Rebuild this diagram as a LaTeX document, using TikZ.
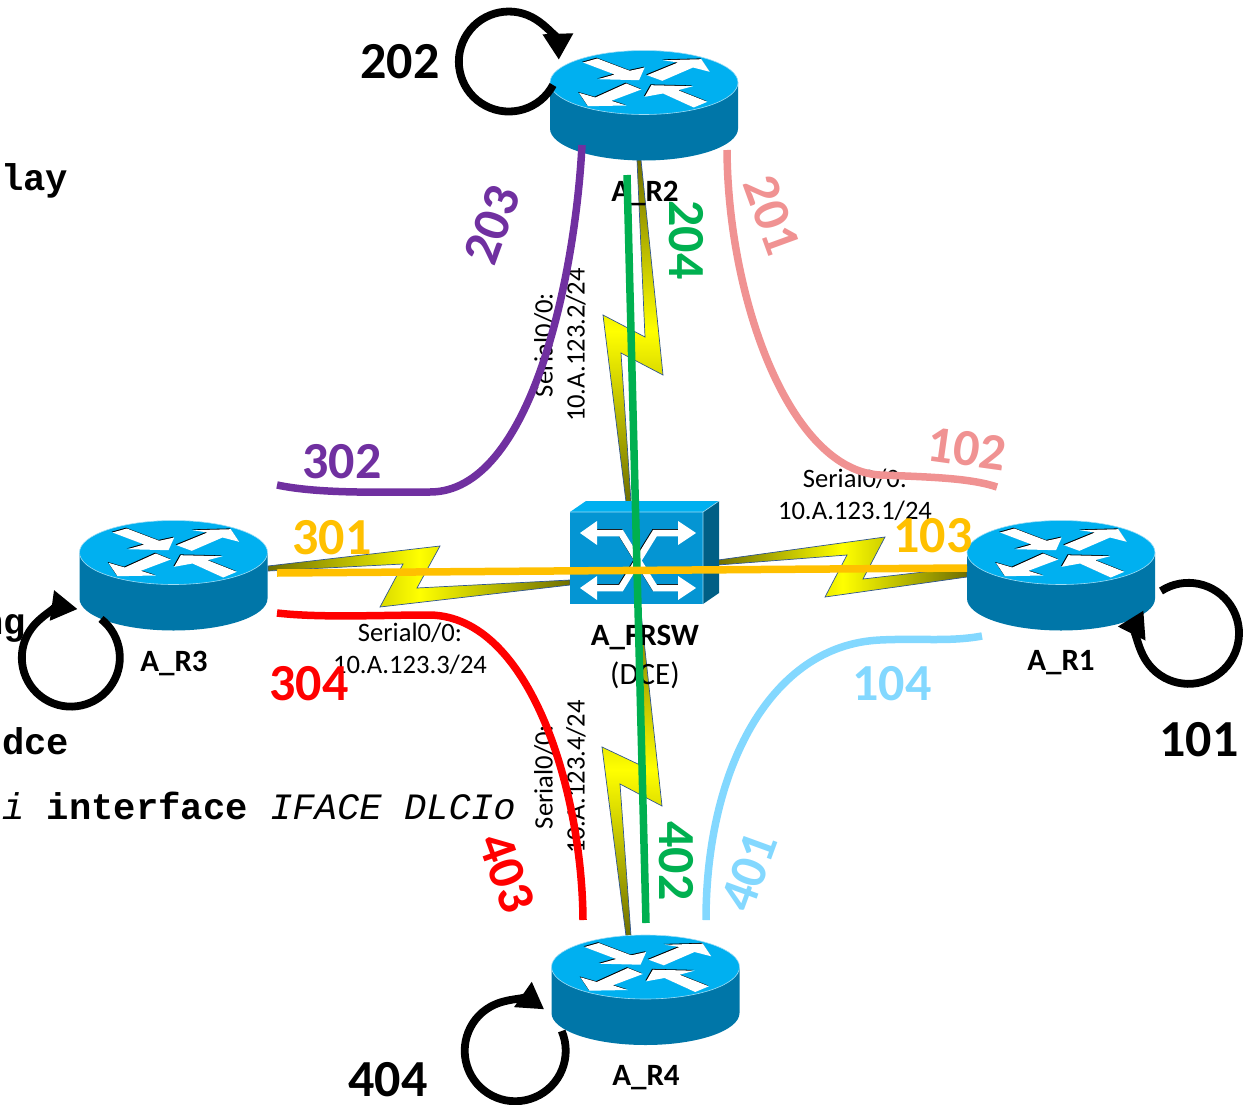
\documentclass[tikz,border=0pt]{standalone}
\usepackage{fontspec}
\setmainfont{Carlito}
\newfontfamily\codefont{Liberation Mono}
\usetikzlibrary{arrows.meta}
\definecolor{routertop}{HTML}{00B0F0}
\definecolor{routerside}{HTML}{0076A8}
\definecolor{routeredge}{HTML}{9FDDF5}
\definecolor{switchfront}{HTML}{0495D3}
\definecolor{switchside}{HTML}{005F85}
\definecolor{boltend}{HTML}{6F6F00}
\definecolor{boltline}{HTML}{2F5590}
\definecolor{dlcipurple}{HTML}{7030A0}
\definecolor{dlcipink}{HTML}{F09292}
\definecolor{dlciamber}{HTML}{FFC000}
\definecolor{dlciblue}{HTML}{83D8FF}
\definecolor{dlcigreen}{HTML}{00B050}
\tikzset{
  router/.pic={
    \fill[routerside] (-94,0) -- (-94,46) arc[start angle=180,end angle=0,x radius=94,y radius=32] -- (94,0) -- cycle;
    \filldraw[fill=routertop,draw=routeredge,line width=.6pt] (0,0) ellipse [x radius=94,y radius=32];
    \foreach \col/\d in {black/-.8,white/0} % shadow first
    \fill[\col,shift={(\d,\d)}]
      (-61,-20) -- (-46.7,-24) -- (-14.3,-11.7) -- (.7,-15) -- (-5,-2.3) -- (-46,-3.3) -- (-29.3,-8) -- cycle
      (3,-7.3) -- (34,-20) -- (19,-22.3) -- (57.3,-23.3) -- (65.7,-10.7) -- (49,-15) -- (18.3,-1.7) -- cycle
      (-2.7,7) -- (-32.7,18.3) -- (-17.7,23) -- (-56,23.7) -- (-65,10.3) -- (-48.7,15) -- (-17.7,1) -- cycle
      (.7,14.3) -- (7.3,2.7) -- (49,3.7) -- (34,7.7) -- (63.3,19.3) -- (49.7,25) -- (19,11) -- cycle;
  },
  bolt/.style={draw=boltline,line width=.7pt,line join=miter},
  dlci/.style={line width=7.5pt,line cap=butt},
  selfloop/.style={line width=7.8pt,-{Triangle[length=26pt,width=29pt]}},
  devlabel/.style={font=\bfseries\fontsize{31}{33}\selectfont,inner sep=0pt},
  portlabel/.style={font=\fontsize{26.6}{32}\selectfont,align=center,inner sep=0pt},
  dlcinum/.style={font=\bfseries\fontsize{52}{52}\selectfont,inner sep=0pt},
  codeline/.style={font=\codefont\fontsize{37.2}{37.2}\selectfont,anchor=base west,inner sep=0pt}
}
\begin{document}
\begin{tikzpicture}[x=1pt,y=-1pt]
\useasboundingbox (0,0) rectangle (1247,1105);
% text left over behind the diagram
\node[codeline] (codelay) at (1,190) {\bfseries lay};
\node[codeline] (codeng) at (-19,634) {\bfseries ng};
\node[codeline] (codedce) at (2,754) {\bfseries dce};
\node[codeline] (codeiface) at (2,819) {{\itshape i} {\bfseries interface} {\itshape IFACE DLCIo}};
% lightning links
\shade[bolt,left color=boltend,right color=boltend,middle color=yellow] (268,566) -- (440,546) -- (417,588) -- (570,580) -- (570,585) -- (380,607) -- (403,564) -- (268,571) -- cycle;
\shade[bolt,left color=boltend,right color=boltend,middle color=yellow] (718,560) -- (885,537) -- (863,579) -- (967,567) -- (967,577) -- (825,597) -- (847,555) -- (718,565) -- cycle;
\shade[bolt,top color=boltend,bottom color=boltend,middle color=yellow] (637,160) -- (645,337) -- (603,315) -- (626,502) -- (631,502) -- (621,353) -- (663,375) -- (641,160) -- cycle;
\shade[bolt,top color=boltend,bottom color=boltend,middle color=yellow] (636,604) -- (640,765) -- (602,747) -- (626,936) -- (631,936) -- (620,784) -- (662,806) -- (640,604) -- cycle;
% routers
\foreach \x/\y in {644/82.5,173.5/552.5,1061/552.5,645.5/967}
\pic at (\x,\y) {router};
% frame relay switch
\fill[routertop] (570,512) -- (586,501) -- (719,501) -- (703,512) -- cycle;
\fill[switchside] (703,512) -- (719,501) -- (719,593) -- (703,604) -- cycle;
\fill[switchfront] (570,512) rectangle (703,604);
\draw[routeredge,line width=.6pt] (703,604) -- (703,512) -- (570,512) (703,512) -- (719,501);
\foreach \col/\d in {black/-.7,white/0}
\draw[\col,line width=6.5pt,shift={(\d,\d)}] (594,533) -- (621,533) -- (655,588) -- (682,588) (682,533) -- (655,533) -- (621,588) -- (594,588);
\fill[white] (580,533) -- (597,521) -- (597,545) -- cycle (696,533) -- (678,521) -- (678,545) -- cycle
  (580,588) -- (597,576) -- (597,600) -- cycle (696,588) -- (678,576) -- (678,600) -- cycle;
% device and port labels
\node[devlabel] (labelR2) at (645,193) {A\_R2};
\node[devlabel] (labelR3) at (174,663) {A\_R3};
\node[devlabel] (labelR1) at (1061,663) {A\_R1};
\node[devlabel] (labelR4) at (646,1078) {A\_R4};
\node[devlabel] (labelsw) at (645,637) {A\_FRSW};
\node[font=\fontsize{31}{33}\selectfont,inner sep=0pt] (labeldce) at (645,675) {(DCE)};
\node[portlabel] (portR3) at (410,649) {Serial0/0:\\10.A.123.3/24};
\node[portlabel] (portR1) at (855,495) {Serial0/0:\\10.A.123.1/24};
\node[portlabel,rotate=90] (portR2) at (560,345) {Serial0/0:\\10.A.123.2/24};
\node[portlabel,rotate=90] (portR4) at (560,777) {Serial0/0:\\10.A.123.4/24};
% dlci paths
\coordinate (purpleR2) at (582,145);
\coordinate (purpleR3) at (277,485);
\coordinate (pinkR2) at (727,150);
\coordinate (pinkR1) at (997,487);
\coordinate (redR3) at (277,613);
\coordinate (redR4) at (583,920);
\coordinate (blueR1) at (982,636);
\coordinate (blueR4) at (706,920);
\coordinate (greenR2) at (627,175);
\coordinate (greenR4) at (646,923);
\coordinate (amberR3) at (277,573);
\coordinate (amberR1) at (967,568);
\draw[dlci,dlcigreen] (greenR2) -- (greenR4);
\draw[dlci,dlciamber] (amberR3) -- (amberR1);
\draw[dlci,dlcipurple] (purpleR2) .. controls (575,280) and (530,492) .. (430,492) .. controls (380,492) and (320,494) .. (purpleR3);
\draw[dlci,dlcipink] (pinkR2) .. controls (728,300) and (790,470) .. (880,475) .. controls (930,477) and (970,478) .. (pinkR1);
\draw[dlci,red] (redR3) .. controls (320,618) and (380,615) .. (430,615) .. controls (530,617) and (582,790) .. (redR4);
\draw[dlci,dlciblue] (blueR1) .. controls (950,642) and (920,638) .. (880,640) .. controls (770,645) and (706,770) .. (blueR4);
% local loops
\draw[selfloop] (553,85) arc[start angle=28,end angle=358,radius=50];
\draw[selfloop] (101,619) arc[start angle=-52,end angle=278,radius=49];
\draw[selfloop] (1161,591) arc[start angle=-123,end angle=207,radius=50.5];
\draw[selfloop] (561.7,1031) arc[start angle=-23,end angle=305,radius=50.5];
% dlci numbers
\node[dlcinum] (n202) at (400,62) {202};
\node[dlcinum] (n101) at (1199,740) {101};
\node[dlcinum] (n404) at (388,1080) {404};
\node[dlcinum,dlcipurple] (n302) at (342,462) {302};
\node[dlcinum,dlciamber] (n301) at (332,538) {301};
\node[dlcinum,red] (n304) at (309,684) {304};
\node[dlcinum,dlciamber] (n103) at (933,536) {103};
\node[dlcinum,dlcipink,rotate=-8] (n102) at (967,449) {102};
\node[dlcinum,dlciblue] (n104) at (892,684) {104};
\node[dlcinum,dlcipurple,rotate=70] (n203) at (492,225) {203};
\node[dlcinum,dlcipink,rotate=-70] (n201) at (772,215) {201};
\node[dlcinum,dlcigreen,rotate=-90] (n204) at (686,240) {204};
\node[dlcinum,dlcigreen,rotate=-90] (n402) at (676,861) {402};
\node[dlcinum,red,rotate=-70] (n403) at (507,873) {403};
\node[dlcinum,dlciblue,rotate=70] (n401) at (749,872) {401};
\end{tikzpicture}
\end{document}
